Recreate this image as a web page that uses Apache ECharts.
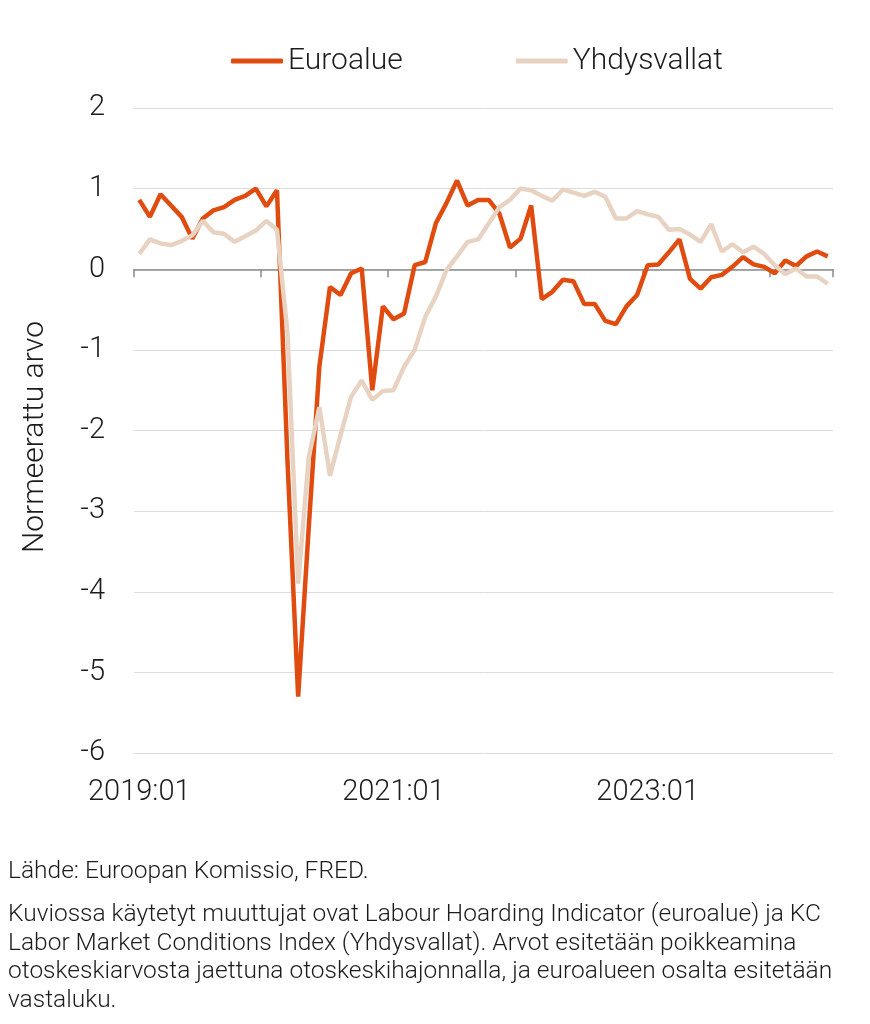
<!DOCTYPE html>
<html>
<head>
<meta charset="utf-8">
<script src="https://cdn.jsdelivr.net/npm/echarts@6/dist/echarts.min.js"></script>
<style>
html,body{margin:0;padding:0;background:#fff;}
#chart{width:870px;height:1024px;}
</style>
</head>
<body>
<div id="chart"></div>
<script>
// Months 2019:01 .. 2024:06
const startYear = 2019, monthCount = 66;
const categories = [];
for (let i = 0; i < monthCount; i++) {
  const y = startYear + Math.floor(i / 12);
  const m = (i % 12) + 1;
  categories.push(y + ':' + (m < 10 ? '0' + m : m));
}

const euroalue = [
  0.86, 0.65, 0.93, 0.79, 0.65, 0.38, 0.63, 0.73, 0.77, 0.86, 0.91, 1.00,
  0.78, 0.98, -2.4, -5.3, -3.2, -1.21, -0.22, -0.32, -0.05, 0.01, -1.50, -0.46,
  -0.62, -0.55, 0.05, 0.09, 0.57, 0.82, 1.10, 0.79, 0.86, 0.86, 0.69, 0.27,
  0.38, 0.79, -0.37, -0.28, -0.13, -0.15, -0.43, -0.43, -0.64, -0.68, -0.46, -0.32,
  0.05, 0.06, 0.21, 0.37, -0.12, -0.24, -0.10, -0.07, 0.03, 0.15, 0.06, 0.03,
  -0.05, 0.11, 0.04, 0.16, 0.22, 0.16
];

const yhdysvallat = [
  0.19, 0.37, 0.32, 0.30, 0.35, 0.42, 0.60, 0.46, 0.44, 0.34, 0.41, 0.48,
  0.60, 0.49, -0.8, -3.9, -2.33, -1.71, -2.56, -2.06, -1.58, -1.38, -1.62, -1.51,
  -1.50, -1.21, -1.00, -0.59, -0.34, -0.01, 0.16, 0.34, 0.37, 0.57, 0.77, 0.86,
  1.00, 0.98, 0.91, 0.85, 0.99, 0.95, 0.91, 0.96, 0.90, 0.63, 0.63, 0.72,
  0.68, 0.65, 0.49, 0.50, 0.43, 0.34, 0.56, 0.22, 0.31, 0.21, 0.28, 0.19,
  0.05, -0.06, 0.01, -0.09, -0.09, -0.18
];

const seriesNames = ['Euroalue', 'Yhdysvallat'];
const yAxisTitle = 'Normeerattu arvo';
const sourceText = 'Lähde: Euroopan Komissio, FRED.';
const noteLines = [
  'Kuviossa käytetyt muuttujat ovat Labour Hoarding Indicator (euroalue) ja KC',
  'Labor Market Conditions Index (Yhdysvallat). Arvot esitetään poikkeamina',
  'otoskeskiarvosta jaettuna otoskeskihajonnalla, ja euroalueen osalta esitetään',
  'vastaluku.'
];

const FONT = 'Roboto, "Open Sans", sans-serif';
const TXT = '#1c1c1c';
const ORANGE = '#E04C10';
const BEIGE = '#E8D3C3';

const chart = echarts.init(document.getElementById('chart'), null, {renderer: 'canvas'});

const graphics = [
  {
    type: 'text', x: 35, y: 437, rotation: Math.PI / 2,
    style: {text: yAxisTitle, font: '300 30px ' + FONT, fill: TXT, textAlign: 'center', textVerticalAlign: 'middle'}
  },
  {
    type: 'text', x: 8, y: 872,
    style: {text: sourceText, font: '300 24.5px ' + FONT, fill: TXT, textAlign: 'left', textVerticalAlign: 'middle'}
  }
];
const noteY = [915, 944, 972, 1001];
noteLines.forEach((t, i) => {
  graphics.push({
    type: 'text', x: 8, y: noteY[i],
    style: {text: t, font: '300 24.5px ' + FONT, fill: TXT, textAlign: 'left', textVerticalAlign: 'middle'}
  });
});

chart.setOption({
  animation: false,
  backgroundColor: '#ffffff',
  textStyle: {fontFamily: FONT},
  legend: {
    top: 41,
    left: 226,
    itemWidth: 52,
    itemHeight: 5,
    itemGap: 113,
    icon: 'roundRect',
    textStyle: {fontSize: 30, fontWeight: 300, color: TXT, fontFamily: FONT},
    data: [
      {name: seriesNames[0], itemStyle: {color: ORANGE}},
      {name: seriesNames[1], itemStyle: {color: BEIGE}}
    ]
  },
  grid: {left: 134, right: 37, top: 108, bottom: 271, containLabel: false},
  xAxis: [
    {
      type: 'category',
      data: categories,
      boundaryGap: true,
      position: 'bottom',
      axisLine: {show: false, onZero: false},
      axisTick: {show: false},
      splitLine: {show: false},
      axisLabel: {
        interval: 23,
        fontSize: 29,
        fontWeight: 300,
        color: TXT,
        margin: 25,
        fontFamily: FONT
      }
    },
    {
      type: 'category',
      data: categories,
      boundaryGap: true,
      position: 'bottom',
      axisLine: {show: true, onZero: true, lineStyle: {color: '#8a8a8a', width: 1.5}},
      axisTick: {show: true, interval: 11, length: 8, lineStyle: {color: '#8a8a8a', width: 1.5}},
      axisLabel: {show: false},
      splitLine: {show: false}
    }
  ],
  yAxis: {
    type: 'value',
    min: -6,
    max: 2,
    interval: 1,
    axisLine: {show: false},
    axisTick: {show: false},
    splitLine: {show: true, lineStyle: {color: '#dcdcdc', width: 1}},
    axisLabel: {fontSize: 29, fontWeight: 300, color: TXT, margin: 29, fontFamily: FONT}
  },
  series: [
    {
      name: seriesNames[0],
      type: 'line',
      data: euroalue,
      xAxisIndex: 0,
      showSymbol: false,
      symbol: 'none',
      lineStyle: {color: ORANGE, width: 4.5},
      itemStyle: {color: ORANGE},
      z: 3
    },
    {
      name: seriesNames[1],
      type: 'line',
      data: yhdysvallat,
      xAxisIndex: 0,
      showSymbol: false,
      symbol: 'none',
      lineStyle: {color: BEIGE, width: 4.5},
      itemStyle: {color: BEIGE},
      z: 4
    }
  ],
  graphic: graphics
});
</script>
</body>
</html>
